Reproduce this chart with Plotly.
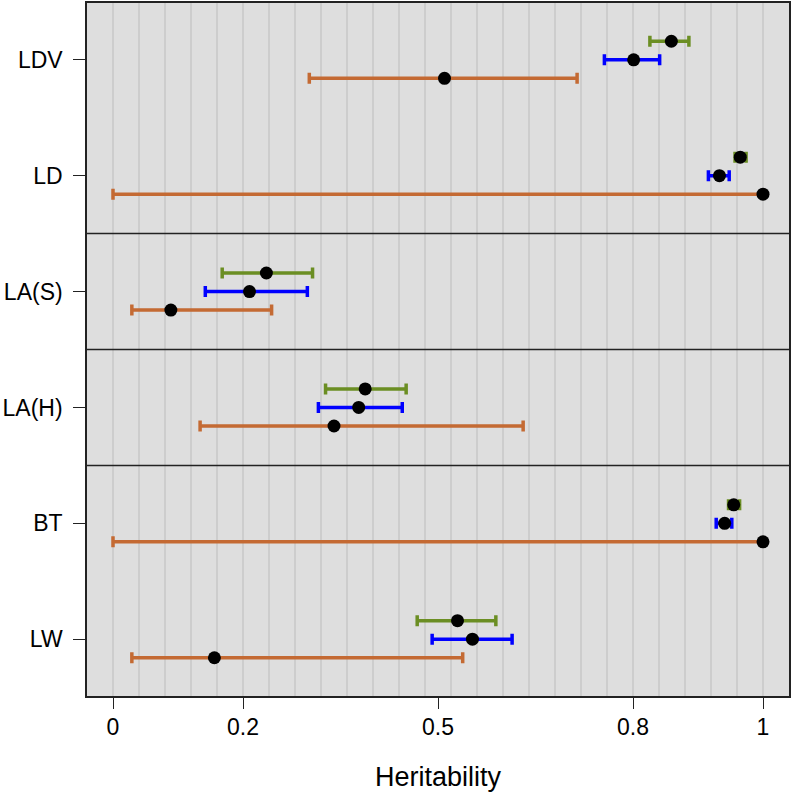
import plotly.graph_objects as go

# ---- data ----
traits = ["LDV", "LD", "LA(S)", "LA(H)", "BT", "LW"]

green_est = [0.859, 0.965, 0.236, 0.388, 0.955, 0.530]
green_low = [0.826, 0.957, 0.168, 0.327, 0.947, 0.468]
green_high = [0.886, 0.974, 0.307, 0.451, 0.964, 0.589]

blue_est = [0.801, 0.933, 0.210, 0.378, 0.941, 0.553]
blue_low = [0.756, 0.916, 0.142, 0.316, 0.928, 0.491]
blue_high = [0.841, 0.948, 0.299, 0.445, 0.952, 0.614]

orange_est = [0.510, 1.000, 0.089, 0.340, 1.000, 0.156]
orange_low = [0.302, 0.000, 0.029, 0.134, 0.000, 0.029]
orange_high = [0.714, 1.000, 0.244, 0.631, 1.000, 0.538]

x_tick_vals = [0, 0.2, 0.5, 0.8, 1]
x_tick_text = ["0", "0.2", "0.5", "0.8", "1"]
panel_breaks = [4.5, 3.5, 2.5]

# ---- layout / style constants ----
n = len(traits)
row_pos = [n - i for i in range(n)]
FONT = "Liberation Sans, Arial, Helvetica, sans-serif"

series = [
    ("orange", orange_est, orange_low, orange_high, "#C46A33", -0.16),
    ("blue", blue_est, blue_low, blue_high, "#0000FF", 0.0),
    ("green", green_est, green_low, green_high, "#6B8E23", 0.16),
]

fig = go.Figure()
for name, est, lo, hi, col, off in series:
    fig.add_trace(go.Scatter(
        x=est,
        y=[p + off for p in row_pos],
        xaxis="x", yaxis="y",
        mode="markers",
        name=name,
        marker=dict(color="black", size=13),
        error_x=dict(
            type="data", symmetric=False,
            array=[h - e for e, h in zip(est, hi)],
            arrayminus=[e - l for e, l in zip(est, lo)],
            color=col, thickness=3.5, width=5.5,
        ),
        showlegend=False,
        hoverinfo="skip",
    ))

# invisible carriers for the tick-mark axis and the tick-label axis
for ax in ("x2", "x3"):
    fig.add_trace(go.Scatter(
        x=x_tick_vals, y=[None] * len(x_tick_vals), xaxis=ax, yaxis="y",
        mode="markers", showlegend=False, hoverinfo="skip",
    ))

for b in panel_breaks:
    fig.add_shape(type="line", xref="paper", x0=0, x1=1, yref="y", y0=b, y1=b,
                  line=dict(color="#222222", width=1.5), layer="above")

xr = [-0.04, 1.04]
fig.update_layout(
    width=793, height=795,
    margin=dict(l=87, r=4, t=3, b=99),
    paper_bgcolor="white",
    plot_bgcolor="#DEDEDE",
    font=dict(family=FONT, size=23, color="black"),
    xaxis=dict(
        range=xr, tickmode="linear", tick0=0, dtick=0.04,
        showgrid=True, gridcolor="#CDCDCD", gridwidth=1.5,
        showticklabels=False, ticks="", zeroline=False, automargin=False,
        showline=True, mirror=True, linecolor="#222222", linewidth=1.5,
    ),
    xaxis2=dict(
        range=xr, overlaying="x", anchor="y", side="bottom",
        tickmode="array", tickvals=x_tick_vals,
        ticks="outside", ticklen=12, tickwidth=1.2, tickcolor="#222222",
        showticklabels=False, automargin=False,
        showgrid=False, zeroline=False, showline=False,
    ),
    xaxis3=dict(
        range=xr, overlaying="x", anchor="y", side="bottom",
        tickmode="array", tickvals=x_tick_vals, ticktext=x_tick_text,
        ticks="", ticklabelstandoff=15, automargin=False,
        showgrid=False, zeroline=False, showline=False,
        title=dict(text="Heritability", font=dict(size=27), standoff=28),
    ),
    yaxis=dict(
        range=[0.51, 6.49], tickmode="array", tickvals=row_pos, ticktext=traits,
        ticks="outside", ticklen=12, tickwidth=1.2, tickcolor="#222222",
        ticklabelstandoff=6, automargin=False,
        showgrid=False, zeroline=False,
        showline=True, mirror=True, linecolor="#222222", linewidth=1.5,
    ),
)

fig.write_html("out.html", config={"displayModeBar": False},
               post_script="document.body.style.margin='0px';")
